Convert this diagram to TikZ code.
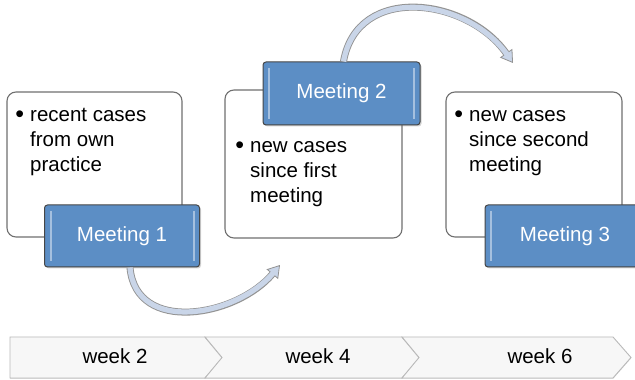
\documentclass[tikz,border=0pt]{standalone}
\usepackage{fontspec}
\setmainfont{Liberation Sans}
\usetikzlibrary{arrows.meta,shadows}

\definecolor{meetblue}{RGB}{92,142,197}
\definecolor{arcblue}{RGB}{201,213,232}
\definecolor{framegray}{RGB}{112,112,112}

\newcommand{\notebullet}{\llap{{\fontsize{25}{25}\selectfont\raisebox{-.8pt}{\textbullet}}\hspace{6pt}}}

\tikzset{
  notebox/.style={draw=framegray, line width=1.1pt, rounded corners=9pt, fill=white},
  meetbox/.style={draw=gray!55!black, line width=1pt, rounded corners=3pt, fill=meetblue,
    text=white, minimum width=155pt, minimum height=62pt,
    drop shadow={opacity=.35, shadow xshift=1.5pt, shadow yshift=-1.5pt},
    path picture={
      \draw[white, opacity=.45, line width=2pt]
        ([xshift=6pt,yshift=-6pt]path picture bounding box.north west) --
        ([xshift=6pt,yshift=6pt]path picture bounding box.south west);
      \draw[white, opacity=.45, line width=2pt]
        ([xshift=-6pt,yshift=-6pt]path picture bounding box.north east) --
        ([xshift=-6pt,yshift=6pt]path picture bounding box.south east);
    }},
  notetext/.style={anchor=base west, align=left, inner sep=0pt},
  arcback/.style={draw=gray!85, line width=7pt,
    -{Triangle[length=12pt,width=15pt,line width=.8pt,fill=arcblue]}},
  arcfront/.style={draw=arcblue, line width=5.2pt, shorten >=10pt},
  weekbar/.style={draw=gray!55, fill=gray!6, line width=.9pt,
    drop shadow={opacity=.25, shadow xshift=0pt, shadow yshift=-1pt}}
}

\begin{document}
\begin{tikzpicture}[x=1pt, y=1pt, font=\fontsize{20.5}{25}\selectfont]
    \useasboundingbox (0,0) rectangle (635,380);
    \clip (0,0) rectangle (635,380);

    % Week bar (bottom)
    \foreach \xl/\xr/\d/\lab/\xt [count=\i] in {10/205/0/week 2/115, 205/402/17/week 4/318, 402/613/17/week 6/540} {
        \path[weekbar] (\xl,43) -- (\xr,43) -- (\xr+18,22.5) -- (\xr,2) -- (\xl,2) -- (\xl+\d,22.5) -- cycle;
        \node (w\i) at (\xt,24) {\lab};
    }

    % Note boxes
    \node[notebox, minimum width=175pt, minimum height=145pt] (b1) at (94.5,215.5) {};
    \node[notebox, minimum width=177pt, minimum height=148pt] (b2) at (313.5,216) {};
    \node[notebox, minimum width=176pt, minimum height=145pt] (b3) at (534,215.5) {};

    % base anchor sits on the last line
    \node[notetext] (t1) at (30,208) {\notebullet recent cases\\from own\\practice};
    \node[notetext] (t2) at (250,177) {\notebullet new cases\\since first\\meeting};
    \node[notetext] (t3) at (469,208) {\notebullet new cases\\since second\\meeting};

    % Meetings
    \node[meetbox] (m1) at (122,144) {Meeting 1};
    \node[meetbox, minimum width=157pt, minimum height=63pt] (m2) at (341.5,286.5) {Meeting 2};
    \node[meetbox, minimum width=160pt] (m3) at (565,144) {Meeting 3};

    % Arcs between meetings
    \coordinate (c1) at (280,115);
    \coordinate (c2) at (513,317);
    \draw[arcback] ([xshift=8pt]m1.south) to[out=-85, in=-130, looseness=1.15] (c1);
    \draw[arcfront] ([xshift=8pt]m1.south) to[out=-85, in=-130, looseness=1.15] (c1);
    \draw[arcback] ([xshift=2pt]m2.north) to[out=80, in=125, looseness=1.2] (c2);
    \draw[arcfront] ([xshift=2pt]m2.north) to[out=80, in=125, looseness=1.2] (c2);
\end{tikzpicture}
\end{document}
